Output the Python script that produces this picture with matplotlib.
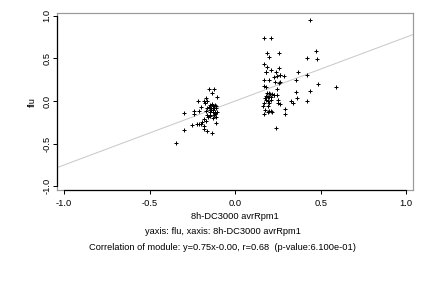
import matplotlib
matplotlib.use("Agg")
import matplotlib.pyplot as plt
import numpy as np

plt.rcParams['font.family'] = ['Liberation Sans', 'DejaVu Sans']

# Left cluster
x_left = [-0.152, -0.125, -0.135, -0.107, -0.168, -0.215, -0.180, -0.174, -0.162,
          -0.135, -0.115, -0.150, -0.197, -0.162, -0.142, -0.123, -0.111,
          -0.240, -0.209, -0.146, -0.127, -0.115, -0.104, -0.240, -0.302,
          -0.164, -0.146, -0.123, -0.181, -0.158, -0.110, -0.193, -0.170,
          -0.250, -0.225, -0.210, -0.197, -0.185, -0.110, -0.298, -0.185,
          -0.162, -0.138, -0.345, -0.130, -0.120, -0.140, -0.155, -0.118,
          -0.132, -0.145, -0.128, -0.112, -0.170, -0.150]
y_left = [0.140, 0.140, 0.098, 0.050, 0.032, 0.004, -0.004, -0.020, 0.004,
          -0.035, -0.043, -0.050, -0.074, -0.086, -0.086, -0.086, -0.086,
          -0.113, -0.121, -0.130, -0.130, -0.130, -0.130, -0.152, -0.144,
          -0.164, -0.164, -0.164, -0.207, -0.190, -0.190, -0.246, -0.238,
          -0.277, -0.270, -0.270, -0.270, -0.290, -0.262, -0.340, -0.332,
          -0.348, -0.379, -0.488, -0.100, -0.140, -0.110, -0.070, -0.150,
          -0.060, -0.180, -0.200, -0.060, -0.120, -0.100]

# Right cluster
x_right = [0.439, 0.166, 0.209, 0.470, 0.423, 0.481, 0.185, 0.255, 0.200, 0.170,
           0.185, 0.178, 0.182, 0.212, 0.255, 0.240, 0.260, 0.265, 0.283, 0.370,
           0.419, 0.228, 0.244, 0.166, 0.200, 0.232, 0.260, 0.256, 0.353, 0.170,
           0.178, 0.247, 0.487, 0.590, 0.435, 0.353, 0.185, 0.195, 0.205, 0.215,
           0.225, 0.244, 0.180, 0.190, 0.196, 0.173, 0.208, 0.230, 0.364, 0.180,
           0.190, 0.210, 0.250, 0.329, 0.341, 0.423, 0.170, 0.200, 0.250, 0.160,
           0.190, 0.173, 0.200, 0.210, 0.294, 0.294, 0.166, 0.190, 0.217, 0.236,
           0.260]
y_right = [0.949, 0.735, 0.735, 0.586, 0.500, 0.489, 0.562, 0.562, 0.516, 0.434,
           0.395, 0.340, 0.345, 0.360, 0.387, 0.340, 0.310, 0.300, 0.293, 0.340,
           0.305, 0.285, 0.293, 0.246, 0.246, 0.226, 0.226, 0.215, 0.246, 0.176,
           0.160, 0.145, 0.200, 0.160, 0.120, 0.105, 0.100, 0.090, 0.085, 0.080,
           0.075, 0.070, 0.060, 0.050, 0.045, 0.040, 0.050, 0.065, 0.035, 0.010,
           0.005, 0.010, 0.015, 0.004, -0.027, 0.004, -0.025, -0.025, -0.025, -0.060,
           -0.060, -0.100, -0.115, -0.120, -0.098, -0.152, -0.152, -0.130, -0.130, -0.316,
           -0.030]

x_vals = x_left + x_right
y_vals = y_left + y_right

slope = 0.75
intercept = 0.0

xticks = [-1.0, -0.5, 0.0, 0.5, 1.0]
yticks = [-1.0, -0.5, 0.0, 0.5, 1.0]
xlabel = "8h-DC3000 avrRpm1"
ylabel = "flu"
sub1 = "yaxis: flu, xaxis: 8h-DC3000 avrRpm1"
sub2 = "Correlation of module: y=0.75x-0.00, r=0.68  (p-value:6.100e-01)"

FS = 9.2

fig = plt.figure(figsize=(6, 4), dpi=72)
ax = fig.add_axes([0.1327, 0.340, 0.956 - 0.1327, 0.954 - 0.340])
xlim = (-1.04, 1.04)
ylim = (-1.045, 1.03)
ax.set_xlim(*xlim)
ax.set_ylim(*ylim)

xl = np.array(xlim)
ax.plot(xl, slope * xl + intercept, color='#c8c8c8', lw=1.0, zorder=1)
ax.plot(x_vals, y_vals, linestyle='none', marker='+', color='black',
        markersize=4.5, markeredgewidth=1.0, zorder=2)

for s in ax.spines.values():
    s.set_color('#9a9a9a')
    s.set_linewidth(1.2)
# R-style axis lines
ax.plot([-1, 1], [ylim[0], ylim[0]], color='black', lw=1.2, clip_on=False, zorder=3)
ax.plot([xlim[0], xlim[0]], [-1, 1], color='black', lw=1.2, clip_on=False, zorder=3)

ax.set_xticks(xticks)
ax.set_yticks(yticks)
ax.set_xticklabels([f"{t:.1f}" for t in xticks])
ax.set_yticklabels([f"{t:.1f}" for t in yticks], rotation=90, va='center')
ax.tick_params(axis='x', length=4, width=1, color='black', labelsize=FS, pad=4.5)
ax.tick_params(axis='y', length=4, width=1, color='black', labelsize=FS, pad=2)

ax.set_xlabel(xlabel, fontsize=FS, labelpad=4.5)
ax.set_ylabel(ylabel, fontsize=FS, labelpad=6)

fig.text(0.516, 1 - 232 / 288, sub1, ha='center', va='center', fontsize=FS)
fig.text(0.516, 1 - 248 / 288, sub2, ha='center', va='center', fontsize=FS)

fig.savefig("out.png", dpi=72)
